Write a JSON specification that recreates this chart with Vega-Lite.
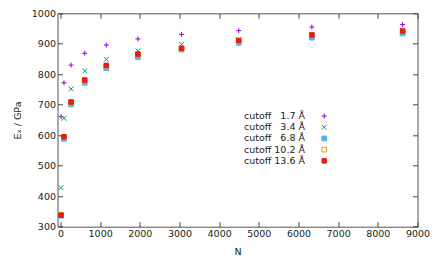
{
  "$schema": "https://vega.github.io/schema/vega-lite/v6.json",
  "autosize": {"type": "none"},
  "width": 360,
  "height": 213.4,
  "padding": {"left": 57.5, "top": 13.3, "right": 18.5, "bottom": 35.3},
  "background": "white",
  "config": {
    "font": "DejaVu Sans",
    "view": {"stroke": "#555", "strokeWidth": 1},
    "axis": {
      "domain": false,
      "grid": false,
      "tickSize": -5,
      "tickColor": "#444",
      "tickWidth": 1,
      "labelPadding": 7,
      "labelFlush": false,
      "labelOverlap": false,
      "labelFont": "DejaVu Sans",
      "labelFontSize": 9.5,
      "labelColor": "#222",
      "titleFont": "DejaVu Sans",
      "titleFontSize": 9.5,
      "titleFontWeight": "normal",
      "titleColor": "#222"
    },
    "legend": {
      "orient": "none",
      "legendX": 262,
      "legendY": 98,
      "labelAlign": "right",
      "labelOffset": -24,
      "labelFont": "DejaVu Sans",
      "labelFontSize": 9.5,
      "labelColor": "#222",
      "rowPadding": 0.2
    }
  },
  "data": {
    "values": [
      {"N": 15, "E": 661, "c": "1.7"},
      {"N": 88, "E": 772, "c": "1.7"},
      {"N": 267, "E": 830, "c": "1.7"},
      {"N": 611, "E": 869, "c": "1.7"},
      {"N": 1155, "E": 896, "c": "1.7"},
      {"N": 1952, "E": 916, "c": "1.7"},
      {"N": 3052, "E": 931, "c": "1.7"},
      {"N": 4493, "E": 943, "c": "1.7"},
      {"N": 6337, "E": 955, "c": "1.7"},
      {"N": 8626, "E": 963, "c": "1.7"},
      {"N": 15, "E": 428, "c": "3.4"},
      {"N": 88, "E": 656, "c": "3.4"},
      {"N": 267, "E": 752, "c": "3.4"},
      {"N": 611, "E": 811, "c": "3.4"},
      {"N": 1155, "E": 849, "c": "3.4"},
      {"N": 1952, "E": 877, "c": "3.4"},
      {"N": 3052, "E": 898, "c": "3.4"},
      {"N": 4493, "E": 913, "c": "3.4"},
      {"N": 6337, "E": 931, "c": "3.4"},
      {"N": 8626, "E": 944, "c": "3.4"},
      {"N": 15, "E": 336, "c": "6.8"},
      {"N": 88, "E": 588, "c": "6.8"},
      {"N": 267, "E": 701, "c": "6.8"},
      {"N": 611, "E": 772, "c": "6.8"},
      {"N": 1155, "E": 820, "c": "6.8"},
      {"N": 1952, "E": 856, "c": "6.8"},
      {"N": 3052, "E": 881, "c": "6.8"},
      {"N": 4493, "E": 903, "c": "6.8"},
      {"N": 6337, "E": 920, "c": "6.8"},
      {"N": 8626, "E": 934, "c": "6.8"},
      {"N": 15, "E": 338, "c": "10.2"},
      {"N": 88, "E": 595, "c": "10.2"},
      {"N": 267, "E": 709, "c": "10.2"},
      {"N": 611, "E": 780, "c": "10.2"},
      {"N": 1155, "E": 828, "c": "10.2"},
      {"N": 1952, "E": 865, "c": "10.2"},
      {"N": 3052, "E": 885, "c": "10.2"},
      {"N": 4493, "E": 910, "c": "10.2"},
      {"N": 6337, "E": 928, "c": "10.2"},
      {"N": 8626, "E": 941, "c": "10.2"},
      {"N": 15, "E": 338, "c": "13.6"},
      {"N": 88, "E": 595, "c": "13.6"},
      {"N": 267, "E": 709, "c": "13.6"},
      {"N": 611, "E": 781, "c": "13.6"},
      {"N": 1155, "E": 829, "c": "13.6"},
      {"N": 1952, "E": 866, "c": "13.6"},
      {"N": 3052, "E": 885, "c": "13.6"},
      {"N": 4493, "E": 911, "c": "13.6"},
      {"N": 6337, "E": 929, "c": "13.6"},
      {"N": 8626, "E": 942, "c": "13.6"}
    ]
  },
  "layer": [
    {
      "mark": {"type": "point", "opacity": 1},
      "encoding": {
        "x": {
          "field": "N", "type": "quantitative",
          "scale": {"domain": [-75, 9000], "nice": false, "zero": false},
          "axis": {"orient": "bottom", "values": [0, 1000, 2000, 3000, 4000, 5000, 6000, 7000, 8000, 9000], "format": "d", "title": "N", "titlePadding": 8}
        },
        "y": {
          "field": "E", "type": "quantitative",
          "scale": {"domain": [300, 1000], "nice": false, "zero": false},
          "axis": {"orient": "left", "values": [300, 400, 500, 600, 700, 800, 900, 1000], "format": "d", "title": "Eₓ / GPa", "titlePadding": 9}
        },
        "shape": {
          "field": "c", "type": "nominal",
          "scale": {"domain": ["1.7", "3.4", "6.8", "10.2", "13.6"], "range": ["M-1,0H1M0,-1V1", "M-1,-1L1,1M-1,1L1,-1", "square", "square", "square"]},
          "legend": {"title": null, "labelExpr": "'cutoff ' + (length(datum.label) < 4 ? '\u2007' : '') + datum.label + ' Å'"}
        },
        "stroke": {
          "field": "c", "type": "nominal",
          "scale": {"domain": ["1.7", "3.4", "6.8", "10.2", "13.6"], "range": ["#9400d3", "#009e73", "#56b4e9", "#e69f00", "#e51e10"]},
          "legend": {"title": null, "labelExpr": "'cutoff ' + (length(datum.label) < 4 ? '\u2007' : '') + datum.label + ' Å'"}
        },
        "fill": {
          "field": "c", "type": "nominal",
          "scale": {"domain": ["1.7", "3.4", "6.8", "10.2", "13.6"], "range": ["transparent", "transparent", "#56b4e9", "transparent", "#e51e10"]},
          "legend": {"title": null, "labelExpr": "'cutoff ' + (length(datum.label) < 4 ? '\u2007' : '') + datum.label + ' Å'"}
        },
        "strokeWidth": {
          "field": "c", "type": "nominal",
          "scale": {"domain": ["1.7", "3.4", "6.8", "10.2", "13.6"], "range": [1, 1, 0, 1, 0]},
          "legend": {"title": null, "labelExpr": "'cutoff ' + (length(datum.label) < 4 ? '\u2007' : '') + datum.label + ' Å'"}
        },
        "size": {
          "field": "c", "type": "nominal",
          "scale": {"domain": ["1.7", "3.4", "6.8", "10.2", "13.6"], "range": [25, 20, 20, 26, 10]},
          "legend": {"title": null, "labelExpr": "'cutoff ' + (length(datum.label) < 4 ? '\u2007' : '') + datum.label + ' Å'"}
        }
      }
    },
    {
      "mark": {"type": "point", "opacity": 0},
      "encoding": {
        "x": {"field": "N", "type": "quantitative", "axis": {"orient": "top", "values": [0, 1000, 2000, 3000, 4000, 5000, 6000, 7000, 8000, 9000], "labels": false, "title": null}},
        "y": {"field": "E", "type": "quantitative", "axis": {"orient": "right", "values": [300, 400, 500, 600, 700, 800, 900, 1000], "labels": false, "title": null}}
      }
    }
  ],
  "resolve": {"axis": {"x": "independent", "y": "independent"}}
}
